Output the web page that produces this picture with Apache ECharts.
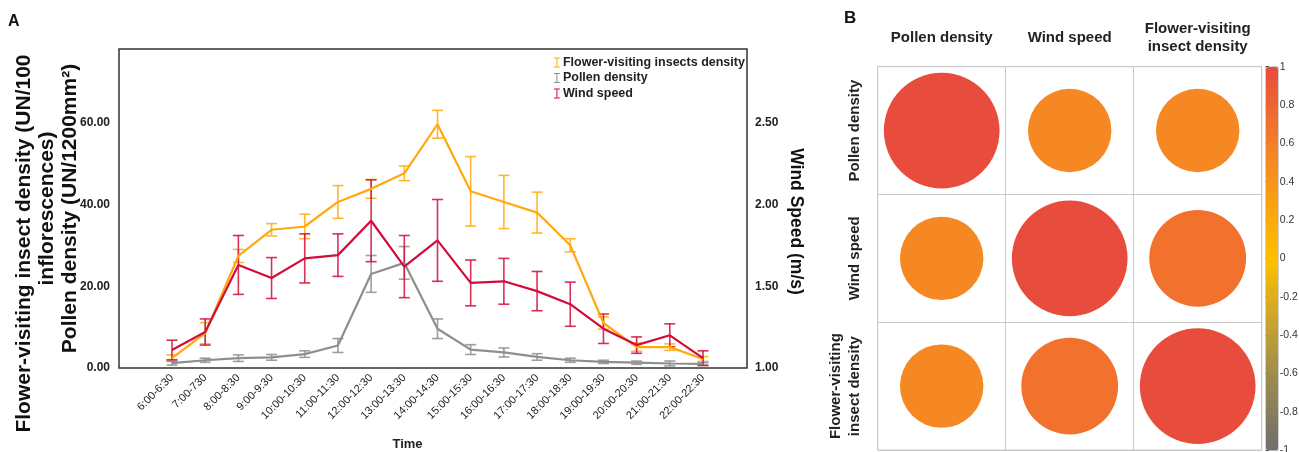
<!DOCTYPE html>
<html>
<head>
<meta charset="utf-8">
<script src="https://cdn.jsdelivr.net/npm/echarts@6/dist/echarts.min.js"></script>
<style>
  html, body { margin: 0; padding: 0; background: #fff; }
  #main { width: 1299px; height: 452px; }
</style>
</head>
<body>
<div id="main"></div>
<script>
/* datos del panel A */
var times = ['6:00-6:30', '7:00-730', '8:00-8:30', '9:00-9:30', '10:00-10:30', '11:00-11:30',
    '12:00-12:30', '13:00-13:30', '14:00-14:30', '15:00-15:30', '16:00-16:30', '17:00-17:30',
    '18:00-18:30', '19:00-19:30', '20:00-20:30', '21:00-21:30', '22:00-22:30'];
var insects = [2.4, 8.5, 27.4, 33.8, 34.6, 40.6, 43.8, 47.6, 59.6, 43.2, 40.6, 38.0, 30.0, 11.0, 5.1, 5.1, 2.2];
var insectsErr = [0.8, 2.6, 1.6, 1.5, 3.0, 4.0, 2.3, 1.8, 3.4, 8.5, 6.5, 5.0, 1.6, 1.5, 1.0, 0.8, 0.6];
var pollen = [1.2, 1.9, 2.4, 2.6, 3.4, 5.5, 23.0, 25.7, 9.6, 4.5, 3.8, 2.7, 1.9, 1.5, 1.3, 1.1, 1.0];
var pollenErr = [0.5, 0.5, 0.8, 0.7, 0.8, 1.7, 4.5, 4.0, 2.4, 1.2, 1.1, 0.8, 0.5, 0.4, 0.4, 0.6, 0.3];
var wind = [1.11, 1.22, 1.63, 1.55, 1.67, 1.69, 1.90, 1.62, 1.78, 1.52, 1.53, 1.47, 1.39, 1.24, 1.14, 1.20, 1.06];
var windErr = [0.06, 0.08, 0.18, 0.125, 0.15, 0.13, 0.25, 0.19, 0.25, 0.14, 0.14, 0.12, 0.135, 0.09, 0.05, 0.07, 0.045];
var leftTicks = [0, 20, 40, 60];
var rightTicks = [1.0, 1.5, 2.0, 2.5];

/* datos del panel B */
var vars = ['Pollen density', 'Wind speed', 'Flower-visiting\ninsect density'];
var corrPollen = [1, 0.52, 0.52];
var corrWind = [0.52, 1, 0.70];
var corrInsects = [0.52, 0.70, 1];

var FONT = '"Liberation Sans", Arial, sans-serif';
var ORANGE = '#FFA90D';
var GREY = '#8E8E8E';
var RED = '#D20C3B';
var IBEAM = 'path://M0,0H7V1.2H4.1V10.8H7V12H0V10.8H2.9V1.2H0Z';

var errData = (vals, errs) => vals.map((v, i) => [i, v - errs[i], v + errs[i]]);

var errBar = (name, vals, errs, yIdx, color) => ({
    name: name,
    type: 'custom',
    xAxisIndex: 1,
    yAxisIndex: yIdx,
    encode: { x: 0, y: [1, 2] },
    data: errData(vals, errs),
    silent: true,
    renderItem: (params, api) => {
        var top = api.coord([api.value(0), api.value(2)]);
        var bot = api.coord([api.value(0), api.value(1)]);
        var w = 5.5;
        var st = { stroke: color, lineWidth: 1.6, opacity: 0.85 };
        return {
            type: 'group',
            children: [
                { type: 'line', shape: { x1: top[0], y1: top[1], x2: bot[0], y2: bot[1] }, style: st },
                { type: 'line', shape: { x1: top[0] - w, y1: top[1], x2: top[0] + w, y2: top[1] }, style: st },
                { type: 'line', shape: { x1: bot[0] - w, y1: bot[1], x2: bot[0] + w, y2: bot[1] }, style: st }
            ]
        };
    }
});

var lineSerie = (name, vals, yIdx, color) => ({
    name: name,
    type: 'line',
    xAxisIndex: 1,
    yAxisIndex: yIdx,
    data: vals,
    showSymbol: false,
    smooth: false,
    lineStyle: { color: color, width: 2.2 },
    itemStyle: { color: color },
    silent: true
});

var corrRows = [corrPollen, corrWind, corrInsects];
var corrData = [];
corrRows.forEach((row, r) => row.forEach((v, c) => corrData.push([c, r, v])));

var dom = document.getElementById('main');
var myChart = echarts.init(dom, null, { renderer: 'canvas' });
var option = {
    animation: false,
    backgroundColor: '#fff',
    textStyle: { fontFamily: FONT },
    title: [
        { text: 'A', left: 3, top: 9, textStyle: { fontSize: 16, fontWeight: 'bold', color: '#111', fontFamily: FONT } },
        { text: 'B', left: 839, top: 5, textStyle: { fontSize: 17, fontWeight: 'bold', color: '#111', fontFamily: FONT } }
    ],
    legend: {
        left: 549,
        top: 51,
        orient: 'vertical',
        itemWidth: 6,
        itemHeight: 10,
        itemGap: 2.5,
        selectedMode: false,
        textStyle: { fontWeight: 'bold', fontSize: 12.5, color: '#222', fontFamily: FONT, padding: [0, 0, 0, -2] },
        data: [
            { name: 'Flower-visiting insects density', icon: IBEAM, itemStyle: { color: ORANGE } },
            { name: 'Pollen density', icon: IBEAM, itemStyle: { color: GREY } },
            { name: 'Wind speed', icon: IBEAM, itemStyle: { color: RED } }
        ]
    },
    grid: [
        { left: 119, top: 49, width: 628, height: 319, show: true, borderColor: '#333', borderWidth: 1.5, outerBoundsMode: 'none' },
        { left: 155.4, top: 49, width: 564.2, height: 319, outerBoundsMode: 'none' },
        { left: 877.7, top: 66.7, width: 384, height: 383.3, show: true, borderColor: '#c8c8c8', borderWidth: 1, outerBoundsMode: 'none' },
        { left: 1265.7, top: 66.7, width: 12, height: 383.3, outerBoundsMode: 'none' }
    ],
    xAxis: [
        { gridIndex: 0, type: 'value', show: false },
        {
            gridIndex: 1, type: 'category', data: times, boundaryGap: true,
            axisLine: { show: false }, axisTick: { show: false },
            axisLabel: { rotate: 45, interval: 0, margin: 8, fontSize: 11, color: '#222', fontFamily: FONT },
            name: 'Time', nameLocation: 'middle', nameGap: 70,
            nameTextStyle: { fontWeight: 'bold', fontSize: 13, color: '#222', fontFamily: FONT, padding: [0, 60, 0, 0] }
        },
        {
            gridIndex: 2, type: 'category', data: vars, position: 'top',
            axisLine: { show: false }, axisTick: { show: false },
            splitLine: { show: true, interval: 0, lineStyle: { color: '#c8c8c8', width: 1 } },
            axisLabel: { interval: 0, margin: 29, fontSize: 15, fontWeight: 'bold', color: '#222', lineHeight: 18, verticalAlign: 'middle', fontFamily: FONT }
        },
        { gridIndex: 3, type: 'value', show: false }
    ],
    yAxis: [
        {
            gridIndex: 0, type: 'value', min: 0, max: 78, interval: 20, position: 'left',
            axisLine: { show: false }, axisTick: { show: false }, splitLine: { show: false },
            axisLabel: {
                showMaxLabel: false, margin: 9, fontSize: 12, fontWeight: 'bold', color: '#222', fontFamily: FONT,
                formatter: (v) => leftTicks.indexOf(v) >= 0 ? v.toFixed(2) : ''
            },
            name: 'Flower-visiting insect density (UN/100\u00A0\u00A0\u00A0\u00A0\u00A0\u00A0\u00A0\u00A0\u00A0\u00A0\u00A0\u00A0\ninflorescences)\nPollen density (UN/1200mm\u00B2)',
            nameLocation: 'middle', nameGap: 37.5, nameRotate: 90, nameMoveOverlap: false,
            nameTextStyle: { fontSize: 21, fontWeight: 'bold', color: '#111', lineHeight: 23, fontFamily: FONT }
        },
        {
            gridIndex: 0, type: 'value', min: 1, max: 2.95, interval: 0.5, position: 'right',
            axisLine: { show: false }, axisTick: { show: false }, splitLine: { show: false },
            axisLabel: {
                showMaxLabel: false, margin: 8, fontSize: 12, fontWeight: 'bold', color: '#222', fontFamily: FONT,
                formatter: (v) => rightTicks.indexOf(v) >= 0 ? v.toFixed(2) : ''
            },
            name: 'Wind Speed (m/s)', nameLocation: 'middle', nameGap: 40, nameRotate: -90,
            nameTextStyle: { fontSize: 17.5, fontWeight: 'bold', color: '#111', fontFamily: FONT, padding: [0, 0, 0, 26] }
        },
        { gridIndex: 1, type: 'value', min: 0, max: 78, show: false },
        { gridIndex: 1, type: 'value', min: 1, max: 2.95, show: false },
        {
            gridIndex: 2, type: 'category', data: vars, inverse: true,
            axisLine: { show: false }, axisTick: { show: false },
            splitLine: { show: true, interval: 0, lineStyle: { color: '#c8c8c8', width: 1 } },
            axisLabel: { interval: 0, rotate: 90, margin: 13, fontSize: 15, fontWeight: 'bold', color: '#222', lineHeight: 19, fontFamily: FONT }
        },
        {
            gridIndex: 3, type: 'value', min: -1, max: 1, interval: 0.2, position: 'right',
            axisLine: { show: false }, splitLine: { show: false },
            axisTick: { show: true, length: 3, lineStyle: { color: '#444', width: 1 } },
            axisLabel: { margin: 2, fontSize: 10.5, color: '#333', fontFamily: FONT, formatter: (v) => String(+v.toFixed(1)) }
        }
    ],
    visualMap: {
        type: 'continuous',
        min: -1,
        max: 1,
        dimension: 2,
        seriesIndex: 6,
        calculable: false,
        left: 1265.7,
        top: 66.7,
        padding: 0,
        itemWidth: 12,
        itemHeight: 383.3,
        borderColor: '#666',
        borderWidth: 0.6,
        inRange: { color: ['#6E6E6E', '#AD9543', '#FFC000', '#F78A22', '#E84C3D'] }
    },
    series: [
        errBar('Flower-visiting insects density', insects, insectsErr, 2, ORANGE),
        lineSerie('Flower-visiting insects density', insects, 2, ORANGE),
        errBar('Pollen density', pollen, pollenErr, 2, GREY),
        lineSerie('Pollen density', pollen, 2, GREY),
        errBar('Wind speed', wind, windErr, 3, RED),
        lineSerie('Wind speed', wind, 3, RED),
        {
            name: 'corr',
            type: 'scatter',
            xAxisIndex: 2,
            yAxisIndex: 4,
            data: corrData,
            silent: true,
            itemStyle: { opacity: 1 },
            symbolSize: (v) => 115.7 * Math.sqrt(Math.abs(v[2]))
        }
    ]
};
if (option && typeof option === "object") {
    myChart.setOption(option, true);
}
</script>
</body>
</html>
